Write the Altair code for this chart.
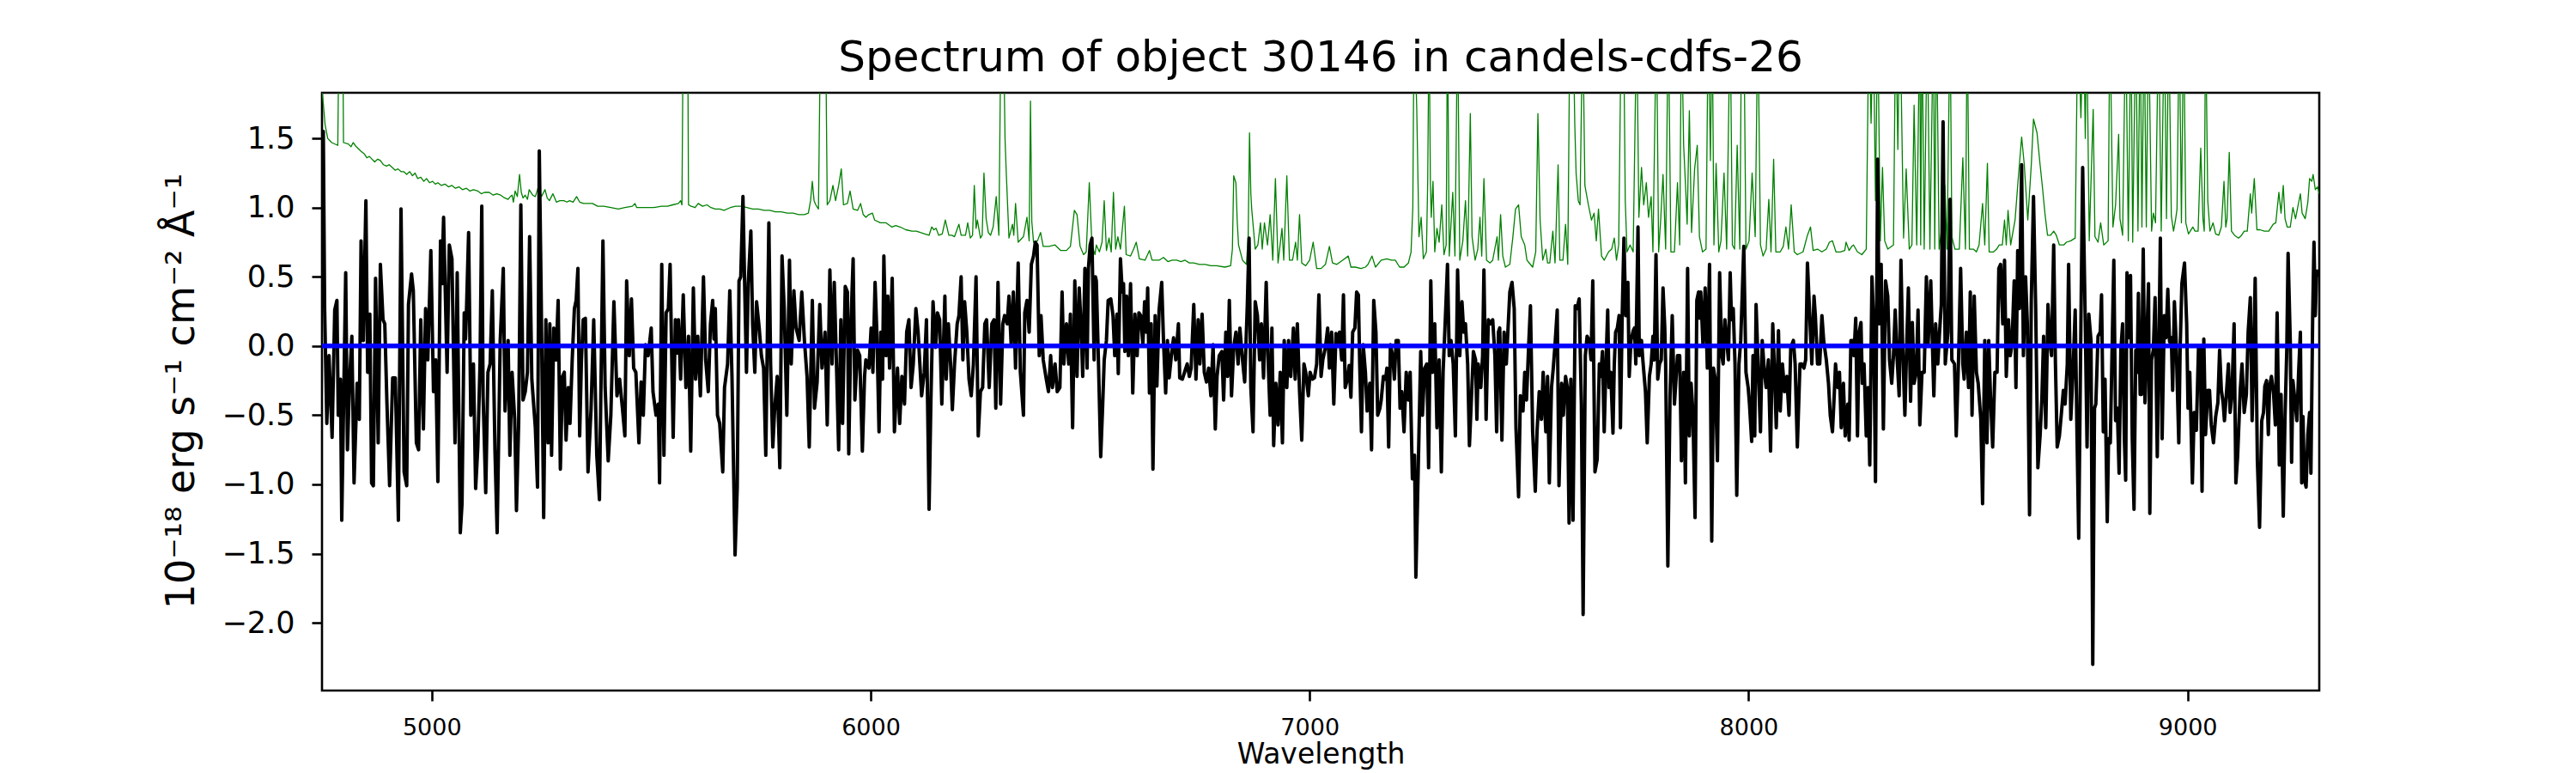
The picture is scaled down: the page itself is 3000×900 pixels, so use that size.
import altair as alt
import pandas as pd

TITLE = "Spectrum of object 30146 in candels-cdfs-26"
X_TITLE = "Wavelength"
Y_TITLE = "10\u207b\u00b9\u2078 erg s\u207b\u00b9 cm\u207b\u00b2 \u00c5\u207b\u00b9"
X_TICKS = [5000, 6000, 7000, 8000, 9000]
Y_TICKS = [-2.0, -1.5, -1.0, -0.5, 0.0, 0.5, 1.0, 1.5]
X_DOMAIN = [4750, 9300]
Y_DOMAIN = [-2.49, 1.83]

# ---- object flux (wavelength, flux), segment by segment ----
flux_a = [(4750,0.28),(4753,1.55),(4756,0.27),(4761,-0.56),(4766,-0.07),(4773,-0.66),(4779,0.26),(4784,0.33),(4787,-0.50),(4792,-0.24),(4795,-1.26),(4804,0.53),(4808,-0.75),(4813,-0.24),(4818,0.07),(4823,-0.99),(4830,-0.27),(4835,-0.53),(4839,0.76),(4844,0.04),(4850,1.05),(4854,-0.19),(4859,0.23),(4863,-0.99),(4867,-1.01),(4872,0.49),(4878,-0.70),(4883,0.59),(4889,0.19),(4893,0.16),(4898,-0.42),(4904,-1.01),(4911,-0.23),(4917,-0.23),(4924,-1.26),(4930,0.99),(4937,-0.91),(4943,-1.01),(4947,0.30),(4954,0.52),(4958,0.40),(4965,-0.70),(4970,-0.75),(4975,0.19),(4981,-0.60),(4986,0.27),(4991,-0.10),(4998,0.69),(5004,-0.33),(5009,-0.10),(5014,-0.98),(5020,0.76),(5023,0.45),(5027,0.93),(5035,-0.19),(5040,0.73),(5046,0.63),(5053,-0.70),(5058,0.53),(5065,-1.35),(5069,-1.14),(5074,0.24),(5077,0.05),(5079,0.24),(5084,0.82),(5089,-0.50),(5095,-0.13),(5100,-1.03),(5105,-0.73),(5110,-0.13),(5114,1.01),(5117,-0.36),(5123,-1.06),(5128,-0.19),(5133,-0.13),(5138,0.40),(5144,-0.75),(5149,-1.35),(5156,0.04),(5163,0.56),(5167,-0.47),(5174,0.04),(5178,-0.79),(5183,-0.19),(5189,-0.53),(5193,-1.19),(5198,-0.56),(5203,1.02),(5208,-0.39),(5213,-0.33),(5218,-0.19),(5223,0.79),(5228,-0.24),(5236,-0.59),(5241,-1.02),(5245,1.41),(5249,0.45),(5255,-1.24),(5260,0.19),(5265,-0.70),(5269,0.16),(5273,-0.79),(5278,0.13),(5283,-0.10),(5288,0.33),(5293,-0.89),(5298,-0.22),(5302,-0.19),(5306,-0.68),(5311,-0.30),(5315,-0.56),(5320,-0.10),(5325,0.27),(5329,0.33),(5333,0.56),(5337,-0.65),(5341,-0.10),(5345,0.19)]
flux_b = [(5350,0.20),(5356,-0.91),(5363,-0.45),(5369,0.19),(5376,-0.79),(5382,-1.11),(5390,0.76),(5395,-0.30),(5402,-0.83),(5408,-0.50),(5415,0.32),(5422,-0.36),(5428,-0.24),(5435,-0.47),(5440,-0.65),(5444,0.47),(5450,-0.07),(5455,0.34),(5460,-0.16),(5465,-0.19),(5472,-0.70),(5477,-0.26),(5482,-0.50),(5487,0.01),(5493,-0.07),(5500,0.13),(5504,-0.33),(5511,-0.50),(5516,-0.42),(5519,-0.99),(5524,0.59),(5529,-0.79),(5534,0.24),(5539,0.27),(5543,0.59),(5550,-0.66),(5555,0.19),(5559,-0.05),(5562,0.19),(5567,-0.24),(5573,0.37),(5579,-0.30),(5585,0.07),(5590,-0.76),(5596,0.42),(5601,-0.24),(5606,0.07),(5612,-0.36),(5619,0.50),(5624,-0.10),(5630,-0.33),(5635,0.16),(5640,0.33),(5643,0.05),(5646,0.27),(5651,-0.50),(5656,-0.56),(5663,-0.91),(5667,-0.30),(5674,-0.13),(5679,0.40),(5684,-0.22),(5691,-1.51),(5696,-1.02),(5700,0.47),(5704,0.50),(5709,1.08),(5713,0.42),(5717,-0.19),(5721,0.45),(5727,0.83),(5731,0.16),(5736,-0.19),(5740,0.32),(5746,0.13),(5751,-0.07),(5756,-0.16),(5761,-0.79),(5768,0.89),(5772,-0.13),(5777,-0.73),(5781,-0.47),(5787,-0.22),(5793,-0.88),(5798,0.65),(5803,0.27),(5809,-0.50),(5815,0.62),(5819,-0.13),(5825,0.40),(5830,0.13),(5837,0.04),(5843,0.39),(5849,0.04),(5855,-0.22),(5860,-0.73),(5867,0.33),(5872,-0.45),(5878,-0.26),(5884,0.30),(5889,-0.16),(5896,0.10),(5901,-0.57),(5907,0.55),(5912,-0.13),(5917,0.46),(5922,-0.13),(5927,-0.75),(5932,0.19)]
flux_c = [(5936,-0.56),(5942,0.43),(5947,0.39),(5950,-0.78),(5955,0.16),(5960,0.63),(5964,-0.39),(5970,-0.03),(5975,-0.07),(5981,-0.76),(5986,-0.22),(5989,-0.10),(5996,-0.16),(6001,0.13),(6005,-0.19),(6010,0.46),(6014,0.10),(6019,-0.62),(6023,0.10),(6027,-0.24),(6030,0.65),(6035,-0.07),(6039,0.36),(6043,-0.16),(6049,0.49),(6054,-0.62),(6061,-0.16),(6066,-0.56),(6071,-0.22),(6077,-0.42),(6082,0.10),(6087,0.19),(6092,-0.30),(6097,-0.13),(6103,0.27),(6108,0.10),(6112,-0.13),(6116,-0.36),(6122,-0.19),(6127,0.19),(6133,-1.18),(6137,-0.42),(6142,0.32),(6148,-0.01),(6152,0.24),(6157,0.19),(6162,-0.42),(6169,0.36),(6172,-0.24),(6177,0.16),(6182,-0.13),(6186,-0.46),(6191,-0.13),(6197,0.16),(6201,0.22),(6206,0.50),(6210,-0.10),(6214,0.32),(6219,0.10),(6224,-0.24),(6229,-0.36),(6234,-0.13),(6240,0.50),(6245,-0.65),(6250,-0.33),(6255,-0.30),(6260,0.16),(6264,0.19),(6270,-0.30),(6276,0.16),(6281,0.19),(6285,-0.45),(6290,0.46),(6296,-0.42),(6301,0.16),(6305,0.22),(6311,0.16),(6315,0.36),(6320,0.01),(6325,0.39),(6330,-0.16),(6336,0.60),(6341,-0.19),(6348,-0.50),(6351,0.24),(6356,0.33),(6361,0.10),(6366,0.59),(6371,0.65),(6375,0.75),(6379,0.73),(6384,-0.07),(6388,0.22),(6393,-0.10),(6400,-0.24),(6405,-0.33),(6410,-0.07),(6414,-0.30),(6420,-0.13),(6425,-0.33),(6431,-0.30),(6436,0.39),(6440,-0.13),(6446,0.16),(6451,-0.13),(6455,0.23),(6460,-0.59),(6465,0.47),(6470,-0.22),(6475,0.42),(6479,0.16),(6483,-0.22),(6488,0.56),(6493,-0.16),(6496,0.56),(6500,0.73),(6504,0.78),(6509,-0.10)]
flux_d = [(6512,0.50),(6514,0.47),(6519,-0.13),(6524,-0.80),(6528,-0.47),(6532,-0.10),(6537,0.04),(6541,0.33),(6547,0.34),(6552,0.22),(6556,-0.07),(6561,0.23),(6564,-0.20),(6569,0.63),(6573,0.39),(6576,0.45),(6579,-0.04),(6583,0.36),(6587,-0.07),(6592,0.45),(6597,-0.34),(6602,0.23),(6607,-0.07),(6611,0.24),(6615,0.22),(6620,0.01),(6624,0.32),(6628,0.10),(6631,0.42),(6635,-0.34),(6639,0.16),(6643,-0.89),(6648,0.22),(6652,-0.29),(6657,0.26),(6663,0.46),(6667,0.04),(6672,-0.34),(6676,0.04),(6680,-0.23),(6685,-0.07),(6690,0.06),(6695,-0.10),(6701,0.16),(6704,-0.23),(6710,-0.24),(6715,-0.19),(6721,-0.13),(6726,-0.22),(6730,-0.16),(6736,0.30),(6741,-0.24),(6746,0.19),(6750,-0.13),(6755,0.23),(6760,-0.19),(6765,-0.26),(6770,-0.16),(6775,-0.36),(6780,0.01),(6785,-0.60),(6789,-0.22),(6794,-0.07),(6800,-0.04),(6804,-0.39),(6809,0.10),(6813,-0.22),(6817,0.33),(6822,-0.36),(6827,-0.01),(6832,0.10),(6837,-0.13),(6841,0.13),(6847,-0.10),(6852,-0.26),(6858,0.30),(6862,0.78),(6866,-0.30),(6871,-0.62),(6876,0.32),(6881,0.22),(6886,-0.10),(6890,0.16),(6895,-0.23),(6901,0.46),(6905,-0.07),(6910,-0.50),(6914,0.13),(6918,-0.72),(6923,-0.27),(6928,-0.57),(6933,-0.19),(6938,-0.70),(6942,0.04),(6948,-0.30),(6952,0.04),(6957,-0.22),(6963,0.13),(6967,-0.24),(6972,0.16),(6977,-0.33),(6982,-0.68),(6987,-0.13),(6991,-0.19),(6997,-0.36),(7001,-0.19),(7006,-0.24),(7011,-0.23),(7016,-0.13),(7021,0.37),(7026,-0.22),(7030,-0.10),(7036,-0.01),(7041,0.13),(7045,-0.16),(7050,0.10),(7055,-0.42),(7060,0.09),(7064,0.01),(7068,0.10),(7073,-0.10),(7077,0.37),(7081,-0.30),(7086,-0.24)]
flux_e = [(7090,-0.14),(7094,-0.37),(7098,0.10),(7103,0.13),(7107,0.39),(7111,0.37),(7114,-0.13),(7118,-0.62),(7122,0.01),(7127,-0.19),(7131,-0.47),(7137,-0.27),(7141,-0.75),(7146,0.33),(7151,0.10),(7155,-0.50),(7160,-0.45),(7163,-0.39),(7168,-0.22),(7173,-0.24),(7176,-0.16),(7180,-0.73),(7184,0.01),(7189,-0.07),(7193,-0.24),(7197,0.04),(7202,0.04),(7206,-0.45),(7210,-0.33),(7215,-0.62),(7220,-0.19),(7225,-0.39),(7229,-0.19),(7234,-0.96),(7239,-0.79),(7242,-1.67),(7248,-0.79),(7253,-0.04),(7257,-0.50),(7262,-0.16),(7267,-0.13),(7271,-0.88),(7276,0.47),(7280,-0.19),(7285,0.16),(7290,-0.59),(7295,-0.10),(7300,-0.91),(7304,-0.19),(7309,0.19),(7314,0.59),(7318,-0.07),(7322,0.04),(7327,-0.13),(7332,-0.65),(7337,0.55),(7342,-0.07),(7347,0.32),(7351,0.10),(7355,0.16),(7360,-0.13),(7364,-0.72),(7368,-0.42),(7373,-0.04),(7378,-0.10),(7381,-0.53),(7384,-0.13),(7390,-0.30),(7394,-0.07),(7397,0.55),(7402,-0.53),(7407,0.19),(7412,0.16),(7417,0.19),(7422,-0.07),(7426,-0.62),(7430,0.10),(7433,0.13),(7438,-0.68),(7443,0.10),(7448,-0.13),(7452,0.13),(7456,0.39),(7461,0.46),(7466,0.27),(7470,-0.59),(7476,-1.09),(7480,-0.36),(7486,-0.47),(7490,-0.19),(7494,-0.39),(7499,0.01),(7503,0.29),(7508,-0.62),(7514,-1.05),(7518,-0.62),(7523,-0.33),(7528,-0.53),(7532,-0.19),(7538,-0.62),(7542,-0.22),(7546,-0.99),(7551,-0.30),(7555,-0.16),(7559,0.01),(7564,0.26),(7568,-1.01),(7574,-0.27),(7578,-0.50),(7583,-0.22),(7587,-0.30),(7591,-1.28),(7595,-0.24),(7600,-1.26),(7605,0.29),(7609,0.27),(7614,0.34),(7619,-0.42),(7623,-1.94),(7628,-0.07),(7632,0.07),(7637,0.04),(7641,-0.10),(7645,0.47),(7650,-0.91),(7655,-0.82),(7660,-0.13)]
flux_f = [(7663,-0.22),(7667,-0.04),(7671,-0.62),(7675,-0.13),(7679,0.26),(7682,-0.30),(7686,-0.19),(7691,-0.63),(7694,-0.13),(7697,0.10),(7701,0.13),(7705,0.22),(7708,-0.59),(7712,0.22),(7716,0.78),(7720,0.22),(7725,0.46),(7728,-0.22),(7732,0.04),(7737,0.11),(7740,0.13),(7743,-0.13),(7748,0.86),(7751,-0.07),(7756,0.04),(7759,-0.10),(7765,-0.33),(7769,-0.70),(7774,-0.22),(7778,-0.13),(7782,0.07),(7785,-0.10),(7789,0.66),(7793,-0.24),(7797,-0.13),(7801,-0.10),(7805,0.42),(7809,0.13),(7811,-0.13),(7816,-1.59),(7821,-0.36),(7826,0.22),(7831,-0.42),(7838,-0.07),(7843,-0.07),(7847,-0.83),(7852,-0.19),(7856,-0.99),(7861,0.56),(7865,-0.65),(7869,-0.27),(7873,-0.47),(7878,-1.24),(7882,0.33),(7886,0.39),(7889,0.20),(7891,0.39),(7896,0.01),(7901,0.42),(7906,-0.16),(7911,0.59),(7916,-1.41),(7920,-0.16),(7924,-0.24),(7929,-0.83),(7934,0.53),(7939,-0.07),(7942,-0.13),(7946,0.19),(7950,0.04),(7954,-0.10),(7958,0.53),(7961,0.19),(7965,0.27),(7969,-0.13),(7973,-1.08),(7978,-0.13),(7982,0.04),(7986,0.42),(7989,0.72),(7994,-0.19),(7999,-0.30),(8002,-0.42),(8007,-0.69),(8010,-0.07),(8014,-0.65),(8017,0.30),(8021,-0.07),(8027,-0.62),(8031,0.04),(8036,-0.19),(8040,-0.30),(8045,-0.10),(8050,-0.76),(8055,0.16),(8059,-0.19),(8063,-0.59),(8068,0.11),(8072,-0.47),(8077,-0.13),(8082,-0.33),(8087,-0.22),(8092,-0.50),(8096,-0.01),(8102,0.04),(8106,-0.13),(8111,-0.73),(8117,-0.13),(8121,-0.13),(8126,-0.16),(8130,-0.10),(8134,0.60),(8139,0.24),(8144,-0.13),(8149,0.36),(8152,0.22),(8157,-0.13),(8162,-0.13),(8167,0.22),(8171,0.04),(8177,-0.10),(8182,-0.27),(8186,-0.50),(8191,-0.62),(8195,-0.36),(8198,-0.13),(8203,-0.30),(8207,-0.19),(8211,-0.59),(8216,-0.27),(8220,-0.65),(8226,-0.42),(8229,-0.68),(8233,0.04),(8237,0.04)]
flux_g = [(8240,-0.07),(8244,0.20),(8248,-0.65),(8252,0.10),(8256,0.17),(8259,-0.27),(8263,-0.13),(8268,-0.65),(8272,-0.30),(8276,-0.86),(8281,0.50),(8285,0.16),(8289,-0.98),(8294,1.35),(8297,0.16),(8302,0.59),(8307,-0.60),(8312,0.47),(8317,0.36),(8321,-0.10),(8326,-0.27),(8330,-0.07),(8334,0.26),(8338,-0.07),(8343,-0.36),(8347,0.62),(8351,-0.01),(8356,-0.50),(8360,-0.01),(8364,0.42),(8369,-0.40),(8373,0.17),(8377,-0.27),(8382,-0.19),(8386,0.26),(8390,-0.57),(8395,-0.19),(8400,-0.19),(8405,0.50),(8409,0.01),(8415,0.47),(8418,0.10),(8422,-0.36),(8426,0.16),(8431,-0.13),(8435,0.10),(8439,0.30),(8443,1.62),(8448,-0.13),(8454,0.10),(8459,1.06),(8463,-0.10),(8469,-0.13),(8473,-0.65),(8478,-0.13),(8483,0.56),(8488,-0.13),(8491,-0.24),(8496,0.10),(8501,-0.30),(8505,0.39),(8509,-0.50),(8514,0.36),(8519,-0.19),(8523,-0.27),(8529,-0.53),(8533,-1.14),(8538,0.04),(8543,-0.70),(8547,0.04),(8551,-0.36),(8556,-0.73),(8561,-0.19),(8566,-0.19),(8570,0.56),(8574,0.59),(8579,0.16),(8583,0.62),(8587,-0.22),(8592,0.19),(8596,-0.07),(8600,0.01),(8605,0.47),(8609,-0.30),(8613,0.69),(8617,0.27),(8622,1.31),(8626,-0.07),(8631,0.50),(8635,0.16),(8640,-1.22),(8644,0.33),(8649,1.08),(8654,0.27),(8659,-0.88),(8664,-0.65),(8668,-0.39),(8672,0.07),(8677,-0.59),(8682,0.30),(8686,0.04),(8690,-0.07),(8695,0.73),(8699,-0.13),(8703,-0.73),(8708,-0.65),(8713,-0.47),(8717,-0.32),(8721,-0.42),(8726,-0.13),(8729,0.59),(8734,-0.53),(8739,-0.19),(8744,0.26),(8748,-0.62),(8752,-1.39),(8757,0.16),(8761,1.29),(8767,0.16),(8771,-0.73),(8775,0.23),(8780,0.04),(8784,-2.30),(8788,-0.45),(8791,-0.42),(8796,0.07),(8801,0.10),(8804,0.37),(8808,-0.62),(8812,-0.24)]
flux_h = [(8817,-1.27),(8820,-0.67),(8824,-0.70),(8828,-0.03),(8832,0.62),(8836,-0.54),(8840,-0.45),(8844,-0.92),(8848,-0.03),(8852,0.16),(8856,-0.67),(8859,-0.97),(8862,0.53),(8867,0.06),(8870,0.51),(8874,-0.67),(8878,-1.18),(8882,-0.03),(8885,-0.19),(8888,0.38),(8892,-0.35),(8895,-0.35),(8899,0.70),(8903,-0.41),(8906,-0.06),(8911,0.45),(8914,-1.21),(8918,-0.10),(8922,-0.03),(8926,0.35),(8931,-0.80),(8935,0.10),(8938,0.78),(8942,-0.67),(8947,0.22),(8951,0.06),(8955,0.41),(8959,0.03),(8963,0.06),(8966,-0.32),(8970,0.32),(8974,0.03),(8980,-0.70),(8983,-0.03),(8987,0.45),(8993,0.60),(8998,0.16),(9001,-0.45),(9005,-0.19),(9011,-0.99),(9015,-0.48),(9020,-0.61),(9025,0.00),(9027,-0.30),(9029,0.00),(9033,-1.05),(9037,0.05),(9041,-0.64),(9046,-0.32),(9050,-0.32),(9054,-0.57),(9059,-0.70),(9064,-0.51),(9069,-0.41),(9073,-0.03),(9077,-0.32),(9081,-0.41),(9084,-0.54),(9089,-0.32),(9093,-0.13),(9097,-0.48),(9101,-0.35),(9106,0.16),(9110,-0.99),(9114,-0.80),(9120,-0.32),(9124,-0.13),(9129,-0.48),(9134,-0.35),(9138,0.10),(9143,0.35),(9147,-0.54),(9150,-0.19),(9154,0.49),(9159,-0.83),(9164,-1.31),(9169,-0.54),(9173,-0.48),(9176,-0.29),(9180,-0.25),(9184,-0.64),(9187,-0.29),(9191,-0.22),(9196,-0.35),(9200,-0.57),(9204,0.24),(9209,-0.86),(9213,-0.35),(9218,-1.23),(9222,-0.51),(9226,-0.03),(9229,0.67),(9234,0.03),(9237,-0.84),(9240,-0.25),(9245,-0.41),(9249,-0.54),(9253,-0.19),(9257,0.10),(9260,-0.99),(9263,-0.51),(9266,-0.96),(9270,-1.02),(9274,-0.64),(9278,-0.48),(9281,-0.92),(9285,0.22),(9288,0.75),(9291,0.22),(9294,0.54),(9298,0.54),(9300,0.50)]

# ---- noise spectrum (wavelength, noise); sky lines run off the top of the axes ----
noise_a = [(4750,1.84),(4753,1.75),(4757,1.60),(4763,1.50),(4772,1.47),(4786,1.45),(4789,2.4),(4797,2.4),(4799,1.47),(4810,1.46),(4816,1.44),(4821,1.47),(4828,1.44),(4838,1.41),(4846,1.39),(4852,1.36),(4858,1.37),(4864,1.35),(4870,1.33),(4877,1.35),(4883,1.34),(4890,1.31),(4897,1.30),(4903,1.31),(4910,1.29),(4917,1.27),(4923,1.28),(4930,1.26),(4936,1.26),(4943,1.24),(4950,1.26),(4956,1.23),(4962,1.25),(4968,1.21),(4975,1.22),(4982,1.19),(4988,1.21),(4995,1.18),(5002,1.19),(5008,1.17),(5014,1.18),(5022,1.16),(5030,1.17),(5038,1.15),(5046,1.16),(5054,1.14),(5062,1.15),(5070,1.13),(5079,1.14),(5087,1.12),(5095,1.13),(5105,1.12),(5113,1.10),(5120,1.11),(5131,1.11),(5140,1.09),(5148,1.10),(5157,1.09),(5166,1.07),(5174,1.06),(5179,1.08),(5183,1.09),(5186,1.04),(5190,1.12),(5195,1.08),(5200,1.24),(5204,1.11),(5208,1.07),(5213,1.09),(5218,1.06),(5222,1.13),(5230,1.09),(5236,1.08),(5242,1.14),(5250,1.08),(5258,1.13),(5263,1.07),(5268,1.05),(5276,1.10),(5284,1.04),(5292,1.05),(5301,1.05),(5308,1.04),(5314,1.05),(5322,1.04),(5330,1.08),(5337,1.04),(5346,1.03)]
noise_b = [(5356,1.03),(5366,1.03),(5378,1.01),(5392,1.01),(5408,1.00),(5425,0.99),(5440,1.00),(5457,1.01),(5463,1.03),(5467,1.00),(5478,1.00),(5490,1.00),(5505,1.00),(5523,1.01),(5537,1.01),(5549,1.02),(5562,1.03),(5567,1.05),(5570,1.02),(5573,2.4),(5583,2.4),(5585,1.02),(5591,1.01),(5600,1.00),(5607,1.03),(5617,1.01),(5627,1.02),(5636,1.00),(5646,0.99),(5656,0.99),(5666,0.98),(5680,1.00),(5692,1.01),(5705,1.01),(5718,1.00),(5731,0.99),(5744,0.99),(5757,0.98),(5770,0.98),(5783,0.97),(5796,0.97),(5810,0.96),(5823,0.96),(5836,0.95),(5849,0.95),(5858,0.96),(5863,1.05),(5867,1.19),(5871,1.05),(5875,1.02),(5881,0.99),(5886,2.4),(5897,2.4),(5901,1.02),(5907,1.05),(5914,1.16),(5920,1.05),(5927,1.16),(5933,1.28)]
noise_c = [(5938,1.02),(5947,1.03),(5953,1.12),(5960,0.99),(5970,0.98),(5977,1.03),(5983,0.95),(5989,0.93),(5996,0.95),(6004,0.96),(6009,0.91),(6022,0.89),(6035,0.89),(6048,0.86),(6057,0.87),(6067,0.86),(6080,0.84),(6094,0.83),(6104,0.83),(6113,0.82),(6123,0.81),(6133,0.80),(6139,0.86),(6144,0.84),(6149,0.85),(6155,0.80),(6163,0.81),(6170,0.91),(6178,0.80),(6185,0.80),(6191,0.79),(6201,0.88),(6206,0.80),(6211,0.80),(6216,0.80),(6221,0.89),(6227,0.78),(6232,0.80),(6236,1.16),(6240,0.85),(6243,0.91),(6250,0.78),(6254,0.80),(6258,1.25),(6263,0.92),(6268,0.82),(6273,0.80),(6279,0.86),(6286,1.08),(6292,0.80),(6297,2.4),(6302,2.4),(6306,1.50),(6309,1.24),(6315,0.78),(6323,0.88),(6326,0.80),(6330,1.03),(6336,0.75),(6348,0.79),(6356,0.93),(6361,0.76),(6364,1.77),(6367,0.90),(6371,0.75),(6380,0.76),(6387,0.82),(6393,0.72),(6406,0.72),(6420,0.73),(6433,0.69),(6446,0.69),(6455,0.72),(6464,0.98),(6470,0.95),(6477,0.72),(6485,0.66),(6491,0.68),(6498,1.18),(6504,0.73),(6511,0.66)]
noise_d = [(6514,0.73),(6521,0.68),(6527,0.75),(6532,1.05),(6537,0.69),(6543,0.78),(6548,0.68),(6553,1.11),(6558,0.70),(6563,0.79),(6569,0.70),(6578,1.01),(6582,0.66),(6592,0.65),(6599,0.70),(6605,0.75),(6612,0.63),(6625,0.62),(6635,0.69),(6641,0.62),(6657,0.62),(6667,0.64),(6677,0.61),(6687,0.62),(6697,0.62),(6707,0.61),(6716,0.62),(6726,0.60),(6736,0.60),(6749,0.59),(6762,0.59),(6775,0.58),(6788,0.58),(6807,0.57),(6820,0.58),(6824,0.70),(6827,1.23),(6832,1.18),(6835,0.90),(6838,0.73),(6847,0.62),(6856,0.59),(6860,0.80),(6863,1.54),(6866,1.10),(6868,0.99),(6876,0.70),(6882,0.73),(6888,0.89),(6892,0.70),(6897,0.89),(6904,0.73),(6910,0.95),(6916,0.62),(6922,1.21),(6928,0.60),(6937,0.85),(6941,0.62),(6948,1.23),(6954,0.62),(6961,0.62),(6968,0.75),(6972,0.62),(6977,0.95),(6982,0.60),(6991,0.58),(7000,0.62),(7008,0.75),(7016,0.56),(7026,0.56),(7036,0.59),(7045,0.72),(7052,0.60),(7062,0.59),(7075,0.62),(7088,0.65)]
noise_e = [(7094,0.57),(7104,0.57),(7117,0.56),(7127,0.57),(7133,0.59),(7142,0.65),(7150,0.57),(7163,0.62),(7176,0.63),(7186,0.62),(7195,0.62),(7205,0.57),(7215,0.57),(7225,0.60),(7231,0.68),(7235,1.00),(7238,2.4),(7244,1.71),(7249,0.79),(7254,0.93),(7259,0.63),(7266,0.68),(7269,1.2),(7272,2.4),(7275,1.2),(7277,0.93),(7281,1.19),(7285,0.68),(7290,0.85),(7295,0.75),(7301,1.02),(7306,0.66),(7311,0.73),(7314,2.4),(7318,0.65),(7326,1.11),(7331,0.65),(7337,2.4),(7342,0.62),(7349,0.76),(7355,1.05),(7360,0.65),(7366,1.68),(7370,0.79),(7377,0.62),(7383,0.70),(7388,0.93),(7392,0.65),(7397,1.21),(7403,0.62),(7411,0.60),(7417,0.62),(7427,0.79),(7430,0.62),(7435,0.95),(7440,0.65),(7446,0.57),(7456,0.59),(7463,0.79),(7469,0.99),(7476,1.02),(7482,0.79),(7490,0.73),(7495,0.62),(7508,0.57),(7515,0.68),(7520,1.68),(7525,0.91),(7531,0.62),(7538,0.70),(7542,0.60),(7547,0.60),(7554,0.83),(7559,0.60),(7566,1.31),(7570,0.62),(7577,0.62),(7583,0.88),(7588,0.59),(7593,2.4),(7600,2.4),(7604,1.6),(7607,1.25),(7612,1.05),(7616,1.02),(7622,2.4),(7627,1.16),(7635,1.02),(7642,0.91),(7648,0.96),(7653,0.76),(7658,0.99),(7665,0.65)]
noise_f = [(7671,0.62),(7681,0.68),(7688,0.70),(7694,0.78),(7699,0.62),(7704,0.73),(7710,2.4),(7715,2.4),(7719,1.05),(7723,0.68),(7730,0.73),(7737,0.68),(7745,2.4),(7750,0.93),(7756,1.29),(7761,1.02),(7767,1.18),(7772,0.93),(7778,1.08),(7782,0.68),(7790,2.4),(7795,0.68),(7800,0.93),(7805,1.24),(7811,0.70),(7817,2.4),(7823,0.68),(7831,0.68),(7838,1.18),(7843,0.73),(7847,2.4),(7852,1.45),(7857,1.11),(7860,0.88),(7865,1.70),(7870,0.82),(7877,1.28),(7883,1.45),(7888,0.79),(7895,0.68),(7903,0.70),(7908,2.4),(7913,1.34),(7917,2.4),(7921,0.73),(7926,1.32),(7932,0.68),(7937,0.76),(7944,1.25),(7950,0.70),(7958,2.4),(7963,0.73),(7968,0.70),(7974,1.45),(7980,0.70),(7984,2.4),(7989,2.4),(7994,0.70),(8001,0.76),(8008,1.25),(8015,0.79),(8021,2.4),(8027,0.73),(8033,0.65),(8040,0.70),(8046,1.06),(8051,0.68),(8057,1.35),(8062,0.68),(8072,0.68),(8079,0.72),(8085,0.86),(8091,0.70),(8097,1.02),(8104,0.68),(8111,0.66),(8124,0.68),(8134,0.80),(8141,0.86),(8147,0.69),(8157,0.70),(8167,0.68),(8177,0.70),(8184,0.75),(8191,0.76),(8199,0.68),(8209,0.68),(8219,0.69),(8222,0.75),(8229,0.69),(8235,0.72)]
noise_g = [(8239,0.73),(8248,0.68),(8258,0.66),(8268,0.70),(8274,2.4),(8279,1.61),(8284,2.4),(8289,1.05),(8294,2.4),(8300,0.76),(8305,1.29),(8310,0.76),(8317,0.70),(8330,0.73),(8335,2.4),(8340,1.42),(8344,2.4),(8348,1.80),(8353,0.78),(8359,1.28),(8366,0.70),(8372,0.73),(8377,1.74),(8383,0.73),(8390,2.4),(8392,0.73),(8395,2.4),(8400,0.70),(8407,2.4),(8413,0.70),(8421,2.4),(8424,0.70),(8428,2.4),(8434,0.70),(8441,0.88),(8447,1.16),(8452,0.70),(8459,2.4),(8463,0.79),(8470,0.70),(8480,0.70),(8488,1.36),(8494,0.70),(8498,2.4),(8503,0.70),(8512,0.70),(8519,0.68),(8525,0.73),(8533,1.03),(8538,0.73),(8544,1.32),(8548,0.68),(8558,0.68),(8565,0.70),(8571,0.73),(8578,0.73),(8583,0.91),(8587,0.73),(8591,0.98),(8597,0.73),(8607,0.91),(8613,1.16),(8622,1.51),(8628,1.31),(8636,0.91),(8644,1.31),(8649,1.64),(8657,1.54),(8664,1.31),(8669,1.16),(8675,0.96),(8681,0.80),(8688,0.80),(8695,0.83),(8701,0.80),(8708,0.73),(8718,0.73),(8724,0.75),(8734,0.76),(8744,0.78),(8750,2.4),(8757,1.65),(8763,2.4),(8767,1.5),(8770,2.4),(8776,0.76),(8785,1.71),(8789,0.79),(8796,0.75),(8802,0.89),(8809,0.73),(8819,0.76)]
noise_h = [(8823,2.4),(8830,0.86),(8836,1.02),(8843,1.53),(8846,0.92),(8852,0.80),(8859,2.4),(8865,0.76),(8871,2.4),(8875,0.75),(8882,2.4),(8887,0.83),(8892,2.4),(8896,0.86),(8901,2.4),(8906,0.86),(8911,2.4),(8918,0.83),(8922,0.96),(8927,0.89),(8934,2.4),(8940,0.83),(8947,2.4),(8952,0.92),(8957,2.4),(8963,0.94),(8968,0.83),(8973,0.92),(8976,0.99),(8981,2.4),(8986,0.89),(8991,2.4),(8996,0.89),(9002,0.81),(9012,0.86),(9017,0.83),(9024,0.83),(9030,1.43),(9035,0.92),(9038,0.83),(9041,2.4),(9046,1.05),(9051,0.83),(9058,0.89),(9064,0.81),(9071,0.80),(9077,0.86),(9083,1.19),(9087,0.86),(9090,0.92),(9095,1.40),(9100,0.83),(9107,0.80),(9116,0.78),(9123,0.80),(9129,0.83),(9136,0.83),(9143,1.10),(9146,0.96),(9152,1.21),(9158,0.84),(9165,0.84),(9175,0.83),(9185,0.83),(9195,0.88),(9201,0.89),(9208,1.11),(9213,0.96),(9218,1.16),(9222,0.92),(9227,0.86),(9234,0.86),(9240,1.00),(9246,0.92),(9252,1.02),(9257,1.10),(9261,0.96),(9268,0.92),(9274,1.04),(9278,1.21),(9283,1.19),(9286,1.24),(9291,1.13),(9296,1.15),(9300,1.10)]

flux_pts = flux_a + flux_b + flux_c + flux_d + flux_e + flux_f + flux_g + flux_h
noise_pts = noise_a + noise_b + noise_c + noise_d + noise_e + noise_f + noise_g + noise_h

flux_df = pd.DataFrame(flux_pts, columns=["wavelength", "flux"])
noise_df = pd.DataFrame(noise_pts, columns=["wavelength", "flux"])
zero_df = pd.DataFrame({"flux": [0.0]})

FONT = "DejaVu Sans"

x_enc = alt.X(
    "wavelength:Q",
    scale=alt.Scale(domain=X_DOMAIN, nice=False, zero=False),
    axis=alt.Axis(
        values=X_TICKS, format="d", title=X_TITLE,
        titleFont=FONT, titleFontSize=33, titleFontWeight="normal", titleColor="black",
        titleBaseline="alphabetic", titleY=84,
        labelFont=FONT, labelFontSize=27, labelColor="black",
        labelBaseline="alphabetic", labelPadding=39, labelFlush=False, labelOverlap=False,
        tickSize=12, tickWidth=2.6, tickColor="black", domain=False, grid=False,
    ),
)
y_enc = alt.Y(
    "flux:Q",
    scale=alt.Scale(domain=Y_DOMAIN, nice=False, zero=False),
    axis=alt.Axis(
        values=Y_TICKS, format=".1f", title=Y_TITLE,
        titleFont=FONT, titleFontSize=46, titleFontWeight="normal", titleColor="black",
        titleBaseline="alphabetic", titleAngle=270, titleAlign="center",
        titleX=-150, titleY=347,
        labelFont=FONT, labelFontSize=35, labelColor="black",
        labelPadding=20, labelFlush=False, labelOverlap=False,
        tickSize=12, tickWidth=2.6, tickColor="black", domain=False, grid=False,
    ),
)

noise_line = alt.Chart(noise_df).mark_line(
    color="#008000", strokeWidth=1.3, clip=True, strokeJoin="round"
).encode(x=x_enc, y=y_enc)

flux_line = alt.Chart(flux_df).mark_line(
    color="black", strokeWidth=4.0, clip=True, strokeJoin="round"
).encode(x=x_enc, y=y_enc)

zero_line = alt.Chart(zero_df).mark_rule(color="#0000ff", strokeWidth=5.5).encode(
    y=alt.Y("flux:Q", scale=alt.Scale(domain=Y_DOMAIN, nice=False, zero=False))
)

chart = (
    alt.layer(noise_line, flux_line, zero_line)
    .properties(
        width=2326,
        height=696,
        autosize=alt.AutoSizeParams(type="none"),
        padding={"left": 367, "top": 100, "right": 291, "bottom": 96},
        title=alt.TitleParams(
            text=TITLE, font=FONT, fontSize=50, fontWeight="normal", color="black",
            anchor="middle", frame="group", baseline="alphabetic", offset=-25,
        ),
    )
    .configure(font=FONT)
    .configure_view(stroke="black", strokeWidth=2.6)
)

chart.save("out.html", embed_options={"renderer": "svg", "actions": False})
